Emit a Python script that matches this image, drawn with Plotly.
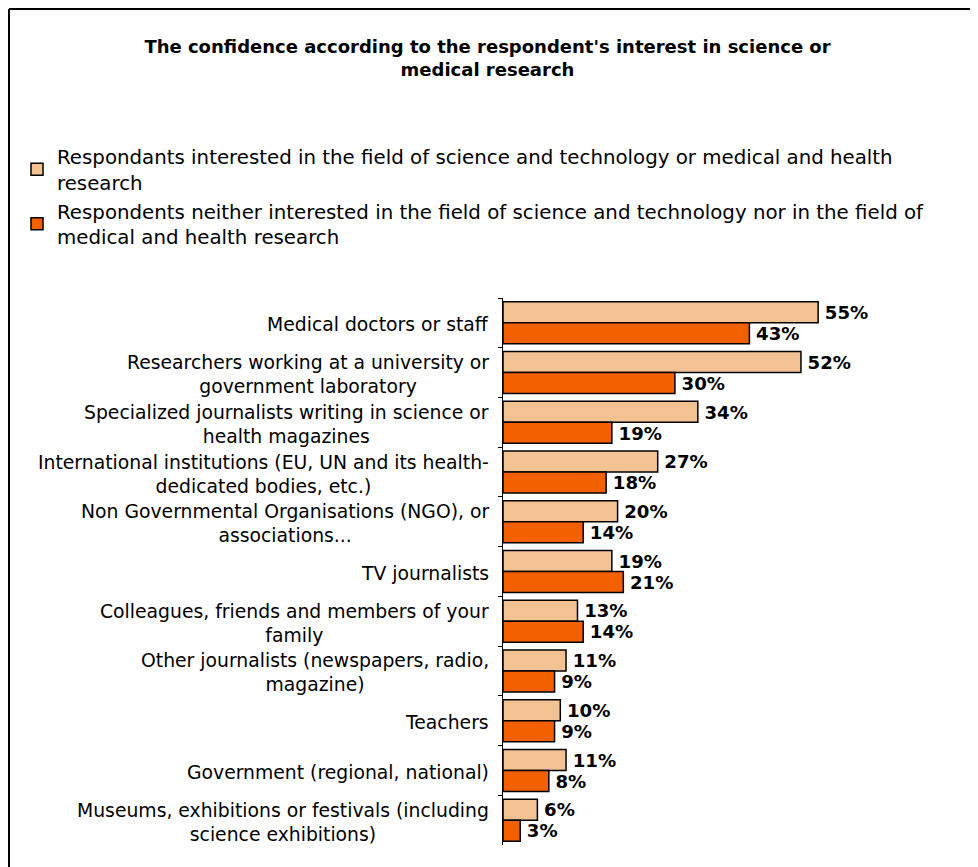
import plotly.graph_objects as go

categories = [
    "Medical doctors or staff",
    "Researchers working at a university or<br>government laboratory",
    "Specialized journalists writing in science or<br>health magazines",
    "International institutions (EU, UN and its health-<br>dedicated bodies, etc.)",
    "Non Governmental Organisations (NGO), or<br>associations...",
    "TV journalists",
    "Colleagues, friends and members of your<br>family",
    "Other journalists (newspapers, radio,<br>magazine)",
    "Teachers",
    "Government (regional, national)",
    "Museums, exhibitions or festivals (including<br>science exhibitions)",
]
interested = [55, 52, 34, 27, 20, 19, 13, 11, 10, 11, 6]
not_interested = [43, 30, 19, 18, 14, 21, 14, 9, 9, 8, 3]
series_names = [
    "Respondants interested in the field of science and technology or medical and health<br>research",
    "Respondents neither interested in the field of science and technology nor in the field of<br>medical and health research",
]
title_text = "The confidence according to the respondent's interest in science or<br>medical research"

# figure is placed at page offset (8, 8) by the browser's default body margin
W, H = 970, 859
ML, MR, MT, MB = 495, 78, 290, 22
PW = W - ML - MR
PH = H - MT - MB
XMAX = PW / 5.73

def px_x(p):
    return (p - ML) / PW

def px_y(p):
    return (H - MB - p) / PH

label_font = dict(family="DejaVu Sans", size=18.8, color="#000000")
legend_font = dict(family="DejaVu Sans", size=19.8, color="#000000")
val_font = dict(family="DejaVu Sans", size=19, color="#000000", weight="bold")

fig = go.Figure()
fig.add_trace(go.Bar(
    y=categories, x=interested, orientation="h", name=series_names[0],
    marker=dict(color="#F3C293", line=dict(color="#000000", width=1.5)),
    text=[f"<b>\u2009{v}%</b>" for v in interested], textposition="outside",
    textfont=val_font, cliponaxis=False, legendgroup="a",
))
fig.add_trace(go.Bar(
    y=categories, x=not_interested, orientation="h", name=series_names[1],
    marker=dict(color="#F26000", line=dict(color="#000000", width=1.5)),
    text=[f"<b>\u2009{v}%</b>" for v in not_interested], textposition="outside",
    textfont=val_font, cliponaxis=False, legendgroup="b",
))

annotations = []
for c in categories:
    annotations.append(dict(
        x=0, xref="paper", y=c, yref="y", text=c, showarrow=False,
        xanchor="right", yanchor="middle", align="center", xshift=-12, yshift=-2,
        font=label_font,
    ))

shapes = [
    dict(type="line", xref="paper", yref="paper", x0=px_x(1), x1=px_x(990),
         y0=px_y(1), y1=px_y(1), line=dict(color="#000000", width=2)),
    dict(type="line", xref="paper", yref="paper", x0=px_x(1), x1=px_x(1),
         y0=px_y(1), y1=px_y(880), line=dict(color="#000000", width=2)),
]

fig.update_layout(
    width=W, height=H,
    margin=dict(l=ML, r=MR, t=MT, b=MB, autoexpand=False),
    paper_bgcolor="#FFFFFF", plot_bgcolor="#FFFFFF",
    barmode="group", bargap=0.155, bargroupgap=0,
    title=dict(text=f"<b>{title_text}</b>", x=479.5 / W, xref="container", xanchor="center",
               y=1 - 44.5 / H, yref="container", yanchor="top",
               font=dict(family="DejaVu Sans", size=18, color="#000000")),
    legend=dict(x=9 / W, xref="container", y=1 - 129 / H, yref="container",
                xanchor="left", yanchor="top", orientation="v", traceorder="grouped",
                font=legend_font, tracegroupgap=0, itemwidth=30,
                bgcolor="rgba(0,0,0,0)"),
    xaxis=dict(range=[0, XMAX], visible=False, showgrid=False, zeroline=False),
    yaxis=dict(autorange="reversed", showticklabels=False, ticks="outside", ticklen=4,
               tickson="boundaries", tickcolor="#000000", showline=True,
               linecolor="#000000", linewidth=1, showgrid=False, zeroline=False),
    annotations=annotations, shapes=shapes, showlegend=True,
)

fig.write_html("out.html")
